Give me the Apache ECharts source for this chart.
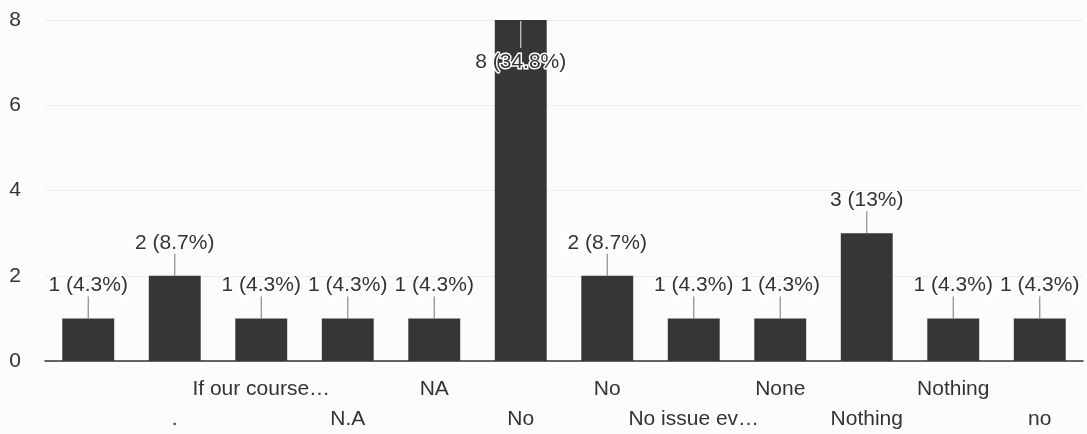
<!DOCTYPE html>
<html>
<head>
<meta charset="utf-8">
<script src="https://cdn.jsdelivr.net/npm/echarts@6/dist/echarts.min.js"></script>
<style>
  html, body { margin: 0; padding: 0; background: #fdfcfd; }
  #chart { width: 1087px; height: 434px; }
</style>
</head>
<body>
<div id="chart"></div>
<script>
// answers, in the order the bars are drawn
let categories = ['', '.', 'If our course\u2026', 'N.A', 'NA', 'No', 'No', 'No issue ev\u2026', 'None', 'Nothing', 'Nothing', 'no'];
let counts = [1, 2, 1, 1, 1, 8, 2, 1, 1, 3, 1, 1];
let yTicks = [0, 2, 4, 6, 8];

let total = counts.reduce((a, b) => a + b, 0);
let labelText = counts.map(v => v + ' (' + parseFloat((v / total * 100).toFixed(1)) + '%)');

let font = 'Liberation Sans, Arial, sans-serif';

let option = {
    animation: false,
    backgroundColor: '#fdfcfd',
    grid: { left: 45, right: 4, top: 20, bottom: 72 },
    xAxis: {
        type: 'category',
        data: categories,
        axisLine: { lineStyle: { color: '#333', width: 1.5 } },
        axisTick: { show: false },
        axisLabel: {
            interval: 0,
            margin: 13,
            lineHeight: 30,
            fontSize: 21,
            fontFamily: font,
            color: '#333',
            formatter: (val, idx) => (idx % 2 === 1 ? '\n' : '') + categories[idx]
        }
    },
    yAxis: {
        type: 'value',
        min: yTicks[0],
        max: yTicks[yTicks.length - 1],
        interval: 2,
        axisLine: { show: false },
        axisTick: { show: false },
        splitLine: { lineStyle: { color: '#f1ebf1' } },
        axisLabel: { margin: 24, fontSize: 21, fontFamily: font, color: '#333' }
    },
    series: [
        {
            type: 'bar',
            data: counts,
            barWidth: '60%',
            itemStyle: { color: '#363636' }
        },
        {
            // leader lines and value labels
            type: 'custom',
            data: counts.map((v, i) => [i, v]),
            z: 5,
            renderItem: function (params, api) {
                let top = api.coord([api.value(0), api.value(1)]);
                let minY = params.coordSys.y + 42;
                let labelY = top[1] - 33;
                let line;
                if (labelY < minY) {
                    labelY = minY;
                    line = { x1: top[0], y1: top[1] + 1, x2: top[0], y2: labelY - 14 };
                } else {
                    line = { x1: top[0], y1: labelY + 11, x2: top[0], y2: top[1] };
                }
                let inside = labelY > top[1];
                return {
                    type: 'group',
                    children: [
                        {
                            type: 'line',
                            shape: line,
                            style: { stroke: inside ? '#cfcfcf' : '#8a8a8a', lineWidth: 1.2 }
                        },
                        {
                            type: 'text',
                            x: top[0],
                            y: labelY,
                            style: {
                                text: labelText[params.dataIndex],
                                align: 'center',
                                verticalAlign: 'middle',
                                font: '21px ' + font,
                                fill: '#333',
                                stroke: '#fff',
                                lineWidth: 3
                            }
                        }
                    ]
                };
            }
        }
    ]
};

let myChart = echarts.init(document.getElementById('chart'));
myChart.setOption(option);
</script>
</body>
</html>
